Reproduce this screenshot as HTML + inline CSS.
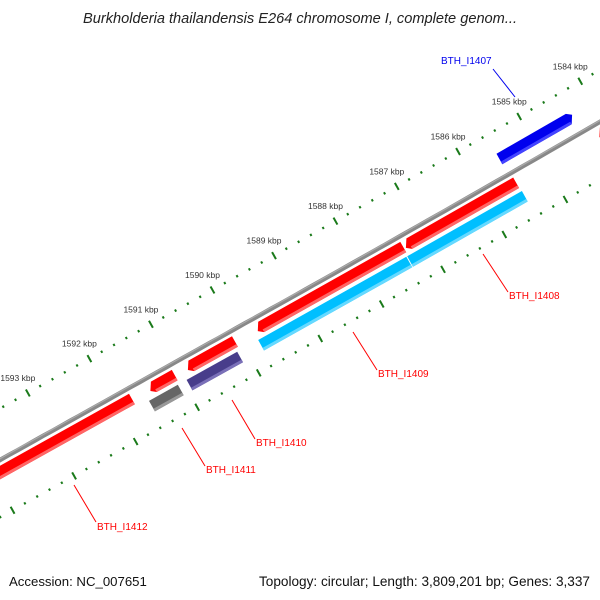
<!DOCTYPE html>
<html><head><meta charset="utf-8"><style>
html,body{margin:0;padding:0;background:#fff;}
svg{display:block;font-family:"Liberation Sans",sans-serif;}
</style></head><body>
<svg id="map" width="600" height="600" viewBox="0 0 600 600" xmlns="http://www.w3.org/2000/svg">
<text x="300" y="23" text-anchor="middle" font-size="14.6" font-style="italic" fill="#222">Burkholderia thailandensis E264 chromosome I, complete genom...</text>
<g id="rulers"></g>
<g id="backbone"></g>
<g id="features"></g>
<g id="labels"></g>
<text x="9" y="586" font-size="13.2" fill="#111">Accession: NC_007651</text>
<text x="590" y="586" text-anchor="end" font-size="13.6" fill="#111">Topology: circular; Length: 3,809,201 bp; Genes: 3,337</text>
</svg>
<script>
const tickKbp = [1584,1585,1586,1587,1588,1589,1590,1591,1592,1593];
const featNames = ["BTH_I1407","BTH_I1408","BTH_I1409","BTH_I1410","BTH_I1411","BTH_I1412","BTH_I1406"];
const featStart = [1585539,1587312,1589723,1590858,1591468,1594092,1584149];
const featEnd   = [1584333,1585496,1587340,1590078,1591057,1591752,1583000];
const featStrand = [-1,1,1,1,1,1,1];
const ring2Start = [1587355,1589780,1590943,1591553];
const ring2End   = [1585482,1587369,1590121,1591085];
const ring2Color = ["#00bfff","#00bfff","#483d8b","#666666"];

const NS="http://www.w3.org/2000/svg";
const O=[0,460], T=[0.873,-0.487], N=[0.487,0.873];
function u(bp){return 57+(1593000-bp)*0.0705;}
function bend(uu){return -0.00002*Math.pow(Math.max(0,uu-300),2);}
function P(uu,v){v=v+bend(uu);return [O[0]+T[0]*uu+N[0]*v, O[1]+T[1]*uu+N[1]*v];}
function mk(tag,attrs,parent){const e=document.createElementNS(NS,tag);for(const k in attrs)e.setAttribute(k,attrs[k]);parent.appendChild(e);return e;}
function poly(pts){return pts.map(p=>p[0].toFixed(1)+","+p[1].toFixed(1)).join(" ");}

const rul=document.getElementById('rulers');
[-45,50].forEach(function(rv){
  for(let bp=1582000;bp<=1596000;bp+=200){
    const major=(bp%1000===0);
    const half=major?4:1.2;
    const a=P(u(bp),rv-half), b=P(u(bp),rv+half);
    const ln=mk('line',{x1:a[0],y1:a[1],x2:b[0],y2:b[1],stroke:'#1a7a1a','stroke-width':2},rul);
    
    
  }
});
tickKbp.forEach(function(k){
  const p=P(u(k*1000),-45);
  const t=mk('text',{x:p[0]-10,y:p[1]-12,'text-anchor':'middle','font-size':'8.5',fill:'#333'},rul);
  t.textContent=k+" kbp";
  
  
});

const bb=document.getElementById('backbone');
function pathAt(v,u0,u1){let d="";for(let q=u0;q<=u1;q+=10){const p=P(q,v);d+=(q===u0?"M":"L")+p[0].toFixed(1)+","+p[1].toFixed(1);}return d;}
const bl=mk('path',{d:pathAt(0,-60,760),stroke:'#888','stroke-width':4.5,fill:'none'},bb);


mk('path',{d:pathAt(-1.2,-60,760),stroke:'#aaa','stroke-width':1.2,fill:'none'},bb);

const fg=document.getElementById('features');
function drawFeat(s,e,v0,v1,color,light,arrow,name){
  let u0=u(s),u1=u(e);
  const lo=Math.min(u0,u1),hi=Math.max(u0,u1);
  let pts;
  const ah=5;
  if(arrow===1){
    pts=[P(lo+ah,v0),P(hi,v0),P(hi,v1),P(lo+ah,v1),P(lo,(v0+v1)/2+2)];
  }else if(arrow===-1){
    pts=[P(lo,v0),P(hi-ah,v0),P(hi,(v0+v1)/2-2),P(hi-ah,v1),P(lo,v1)];
  }else{
    pts=[P(lo,v0),P(hi,v0),P(hi,v1),P(lo,v1)];
  }
  const p=mk('polygon',{points:poly(pts),fill:color},fg);
  
  
  const s2=[P(lo+(arrow===1?ah:0),v1-3),P(hi-(arrow===-1?ah:0),v1-3),P(hi-(arrow===-1?ah:0),v1),P(lo+(arrow===1?ah:0),v1)];
  mk('polygon',{points:poly(s2),fill:light},fg);
}
featStart.forEach(function(s,i){
  if(featStrand[i]<0) drawFeat(s,featEnd[i],-24,-12,'#0000ee','#4444ff',-1,featNames[i].toLowerCase()+'-feature');
  else drawFeat(s,featEnd[i],5,17,'#ff0000','#ff6666',1,featNames[i].toLowerCase()+'-feature');
});
ring2Start.forEach(function(s,i){
  const light={"#00bfff":"#66d9ff","#483d8b":"#7a70b8","#666666":"#999999"}[ring2Color[i]];
  drawFeat(s,ring2End[i],21,33,ring2Color[i],light,0,'ring2-feature');
});

const lg=document.getElementById('labels');
const labs=[["BTH_I1407","#0000ee",441,64,[493,69],[515,97]],
["BTH_I1408","#ff0000",509,299,[483,254],[508,292]],
["BTH_I1409","#ff0000",378,377,[353,332],[377,370]],
["BTH_I1410","#ff0000",256,446,[232,400],[255,439]],
["BTH_I1411","#ff0000",206,473,[182,428],[205,466]],
["BTH_I1412","#ff0000",97,530,[74,485],[96,522]]];
labs.forEach(function(L){
  const ln=mk('line',{x1:L[4][0],y1:L[4][1],x2:L[5][0],y2:L[5][1],stroke:L[1],'stroke-width':1},lg);
  
  
  const t=mk('text',{x:L[2],y:L[3],'font-size':'10',fill:L[1]},lg);
  t.textContent=L[0];
  
  
});
</script>
</body></html>
